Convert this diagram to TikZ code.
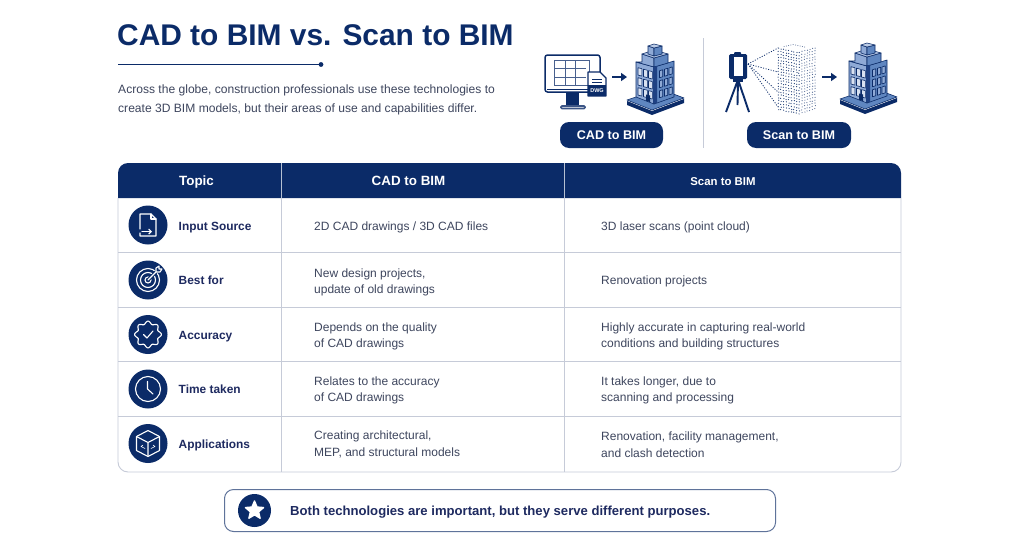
\documentclass[tikz,border=0pt]{standalone}
\usepackage{fontspec}
\setmainfont{Liberation Sans}
\usetikzlibrary{shapes.geometric,arrows.meta,calc}
\definecolor{navy}{HTML}{0B2B68}
\definecolor{gridc}{HTML}{C6CBD8}
\definecolor{bodyc}{HTML}{3E465E}
\definecolor{labelc}{HTML}{1E2A60}
\definecolor{bl}{HTML}{8FAAD6}
\definecolor{bm}{HTML}{5F86C0}
\definecolor{bd}{HTML}{1F4183}
\tikzset{
 title/.style={anchor=base west,inner sep=0,text=navy,font=\fontsize{29.9}{34}\selectfont\bfseries},
 intro/.style={anchor=base west,inner sep=0,text=bodyc,font=\fontsize{12.08}{14}\selectfont},
 headcell/.style={anchor=base,inner sep=0,text=white,font=\fontsize{13.4}{15}\selectfont\bfseries},
 cell/.style={anchor=west,inner sep=0,text=bodyc,align=left,font=\fontsize{12}{16.6}\selectfont},
 topic/.style={anchor=base west,inner sep=0,text=labelc,font=\fontsize{11.9}{14}\selectfont\bfseries},
 iconc/.style={circle,fill=navy,minimum size=39pt,inner sep=0},
 ic/.style={draw=white,line width=1.1pt,line join=round,line cap=round},
 pill/.style={rounded corners=9pt,fill=navy,text=white,minimum height=26pt,inner sep=0,font=\fontsize{12.6}{15}\selectfont\bfseries},
 bigarrow/.style={draw=navy,line width=1.8pt,-{Triangle[length=6pt,width=8pt]}},
 grid/.style={draw=gridc,line width=.9pt},
}
\newcommand{\bimbuilding}[2]{%
\begin{scope}[shift={(#1,#2)},draw=navy,line width=.6pt,line join=round]
 \fill[navy] (-30,21)--(-5,31)--(27,19)--(27,23)--(-5,35)--(-30,25)--cycle;
 \filldraw[fill=bm] (-30,20)--(-5,30)--(27,18)--(3,9)--cycle;
 \filldraw[fill=bl] (-21,-18)--(-3,-13)--(-3,24)--(-21,17)--cycle;
 \filldraw[fill=bm] (-3,-13)--(17,-19)--(17,17)--(-3,24)--cycle;
 \filldraw[fill=bl] (-15,-26)--(-3,-22)--(-3,-13)--(-21,-18)--(-15,-18)--cycle;
 \filldraw[fill=bm] (-3,-22)--(11,-26)--(11,-17)--(-3,-13)--cycle;
 \filldraw[fill=bl!70!white] (-15,-26)--(-3,-30)--(11,-26)--(-3,-22)--cycle;
 \filldraw[fill=bl] (-9,-34)--(-3,-32)--(-3,-24)--(-9,-26)--cycle;
 \filldraw[fill=bm] (-3,-32)--(5,-34)--(5,-26)--(-3,-24)--cycle;
 \filldraw[fill=bl!60!white] (-9,-34)--(-3,-36)--(5,-34)--(-3,-32)--cycle;
 \fill[bd] (-4,-13)--(0,-14)--(0,23)--(-4,23)--cycle;
 \foreach \wx in {-19,-13.5,-8.5}{\foreach \wy in {-11,-1,9}{
   \filldraw[fill=white!65!bl,line width=.6pt] (\wx,\wy+\wx*0.28+4)--++(3.8,1)--++(0,7.4)--++(-3.8,-1)--cycle;}}
 \foreach \wx in {2.5,7.5,12}{\foreach \wy in {-9,1,11}{
   \filldraw[fill=bl,line width=.6pt] (\wx,\wy-\wx*0.3+.5)--++(3.2,-1)--++(0,7)--++(-3.2,1)--cycle;}}
 \fill[navy] (-11,14.5)--(-7,15.5)--(-7,22)--(-11,21)--cycle;
\end{scope}}
\begin{document}
\begin{tikzpicture}[x=1pt,y=-1pt]
\useasboundingbox (0,0) rectangle (1024,538);
\fill[white] (0,0) rectangle (1024,538);
% heading
\node[title] (heading) at (117,45) {CAD to BIM vs. Scan to BIM};
\fill[navy] (321,64.5) circle (2.4pt);
\draw[navy,line width=1.5pt] (118,64.5) -- (321,64.5);
\node[intro] (intro1) at (118,93) {Across the globe, construction professionals use these technologies to};
\node[intro] (intro2) at (118,112) {create 3D BIM models, but their areas of use and capabilities differ.};
% CAD icon
\draw[navy,line width=1.5pt,rounded corners=2.5pt] (600,72) -- (600,55) -- (545,55) -- (545,92) -- (588,92);
\draw[navy,line width=.9pt] (547,89) -- (588,89);
\fill[navy] (566,92) rectangle (579,105);
\draw[navy!80,line width=1.6pt,rounded corners=1pt] (561,106) rectangle (585,108.5);
\draw[navy!75,line width=1pt] (554,60) rectangle (589,85);
\draw[navy!75,line width=.9pt] (554,68) -- (586,68) (554,77) -- (586,77) (565,60) -- (565,85) (575,60) -- (575,85);
\filldraw[draw=navy,fill=white,line width=1.2pt,line join=round] (588,72) -- (600,72) -- (606,78) -- (606,96) -- (588,96) -- cycle;
\fill[navy] (588,85) rectangle (606,96);
\draw[navy,line width=.7pt] (592,79.5) -- (602,79.5) (592,82) -- (602,82);
\node[inner sep=0,text=white,font=\fontsize{5.5}{6}\selectfont\bfseries] (dwg) at (597,90.7) {DWG};
\coordinate (a1s) at (612,77); \coordinate (a1e) at (627,77);
\draw[bigarrow] (a1s) -- (a1e);
\bimbuilding{657}{80}
\node[pill,minimum width=103pt] (pillcad) at (611.5,135) {CAD to BIM};
\draw[draw=gridc,line width=1pt] (703,38) -- (703,148);
% scanner
\fill[navy,rounded corners=1pt] (734,52) rectangle (741,56);
\fill[navy,rounded corners=1.5pt] (729,54) rectangle (747,79);
\fill[white] (733.5,57) rectangle (742.5,76);
\fill[navy] (733,79) rectangle (743,82);
\draw[navy,line width=1.9pt] (737.5,81) -- (726,112) (738,81) -- (737.5,105) (738.5,81) -- (749,112);
\coordinate (lens) at (748,64);
\foreach \ty in {48,72,92,107}{\draw[navy,line width=.8pt,dash pattern=on 1pt off 1.6pt] (lens) -- (778,\ty);}
% point cloud tower
\pgfmathsetseed{7}
\foreach \i in {0,...,8}{\foreach \j in {0,...,21}{
  \pgfmathsetmacro{\px}{778+\i*2.6+rnd*.8}\pgfmathsetmacro{\py}{48+\j*2.9+\i*0.55+rnd*.8}
  \fill[navy!90] (\px,\py) circle (.62pt);}}
\foreach \i in {1,...,6}{\foreach \j in {0,...,21}{
  \pgfmathsetmacro{\px}{799+\i*2.6+rnd*.8}\pgfmathsetmacro{\py}{52+\j*2.9-\i*0.75+rnd*.8}
  \fill[navy!70] (\px,\py) circle (.58pt);}}
\foreach \i in {0,...,9}{\pgfmathsetmacro{\px}{784+\i*2.3}\pgfmathsetmacro{\py}{44.5+abs(\i-4)*0.5}\fill[navy!70] (\px,\py) circle (.5pt);}
\coordinate (a2s) at (822,77); \coordinate (a2e) at (837,77);
\draw[bigarrow] (a2s) -- (a2e);
\bimbuilding{870}{79}
\node[pill,minimum width=104pt] (pillscan) at (799,135) {Scan to BIM};
% table
\fill[white,rounded corners=10pt] (118,163) rectangle (901,472);
\fill[navy] (118,198) -- (118,173) arc[start angle=180,end angle=90,radius=10pt] -- (891,163) arc[start angle=90,end angle=0,radius=10pt] -- (901,198) -- cycle;
\draw[grid] (118,198) -- (118,462) arc[start angle=180,end angle=270,radius=10pt] -- (891,472) arc[start angle=270,end angle=360,radius=10pt] -- (901,198);
\foreach \ry in {252.5,307,361.5,416}{\draw[grid] (118,\ry) -- (901,\ry);}
\draw[grid] (281,198) -- (281,472) (564,198) -- (564,472);
\draw[white!70!navy,line width=.7pt] (281,163) -- (281,198) (564,163) -- (564,198);
\node[headcell] (h1) at (196.5,185) {Topic};
\node[headcell] (h2) at (408.5,185.5) {CAD to BIM};
\node[headcell,font=\fontsize{11.4}{15}\selectfont\bfseries] (h3) at (723,185.5) {Scan to BIM};
% icons
\node[iconc] (i1) at (148,225) {};
\node[iconc] (i2) at (148,280) {};
\node[iconc] (i3) at (148,334.5) {};
\node[iconc] (i4) at (148,389) {};
\node[iconc] (i5) at (148,443.5) {};
\begin{scope}[shift={(148,225)}]
 \draw[ic] (-8,4) -- (-8,-11) -- (3,-11) -- (8,-6) -- (8,11) -- (-8,11) -- (-8,8);
 \draw[ic] (3,-11) -- (3,-6) -- (8,-6);
 \draw[ic,-{Straight Barb[length=2.5pt,width=5pt]}] (-6,6.5) -- (4,6.5);
\end{scope}
\begin{scope}[shift={(148,280)}]
 \draw[ic] (0,0) circle (11.5pt) (0,0) circle (7.5pt) (0,0) circle (3pt);
 \draw[navy,line width=3.5pt] (1,-1) -- (13,-13);
 \draw[ic] (0,0) -- (8,-8);
 \draw[ic] (8,-8) -- (8,-12) -- (11,-14) -- (11,-11) -- (14,-11) -- (12,-8) -- cycle;
\end{scope}
\begin{scope}[shift={(148,334.5)}]
 \draw[ic] plot[domain=0:360,samples=97,smooth] ({(12+1.4*cos(8*\x))*cos(\x)},{(12+1.4*cos(8*\x))*sin(\x)}) -- cycle;
 \draw[ic] (-4.5,0) -- (-1,3.5) -- (5,-3.5);
\end{scope}
\begin{scope}[shift={(148,389)}]
 \draw[ic] (0,0) circle (12.5pt);
 \draw[ic] (-.5,-7.5) -- (-.5,0) -- (5,5);
\end{scope}
\begin{scope}[shift={(148,443.5)}]
 \draw[ic] (0,-13) -- (11.5,-7) -- (11.5,7) -- (0,13) -- (-11.5,7) -- (-11.5,-7) -- cycle;
 \draw[ic] (-11.5,-7) -- (0,-1) -- (11.5,-7) (0,-1) -- (0,13);
 \draw[ic,line width=.6pt] (-7,3) -- (-3,5) (-7,3) -- (-5,1.5) (7,3) -- (3,5) (7,3) -- (5,1.5);
\end{scope}
% rows
\node[topic] (t1) at (178.5,230) {Input Source};
\node[topic] (t2) at (178.5,284.5) {Best for};
\node[topic] (t3) at (178.5,339) {Accuracy};
\node[topic] (t4) at (178.5,393.5) {Time taken};
\node[topic] (t5) at (178.5,448) {Applications};
\node[cell] (c1) at (314,227.5) {2D CAD drawings / 3D CAD files};
\node[cell] (c2) at (314,282.5) {New design projects,\\update of old drawings};
\node[cell] (c3) at (314,336.5) {Depends on the quality\\of CAD drawings};
\node[cell] (c4) at (314,390.5) {Relates to the accuracy\\of CAD drawings};
\node[cell] (c5) at (314,444.5) {Creating architectural,\\MEP, and structural models};
\node[cell] (d1) at (601,227.5) {3D laser scans (point cloud)};
\node[cell] (d2) at (601,281) {Renovation projects};
\node[cell] (d3) at (601,336.5) {Highly accurate in capturing real-world\\conditions and building structures};
\node[cell] (d4) at (601,390.5) {It takes longer, due to\\scanning and processing};
\node[cell] (d5) at (601,444.5) {Renovation, facility management,\\and clash detection};
% footer
\node[draw=navy!55!gridc,line width=1pt,rounded corners=9pt,minimum width=551pt,minimum height=42pt,inner sep=0] (foot) at (500,510.5) {};
\node[iconc,minimum size=33pt] (fi) at (254.5,510.5) {};
\node[star,star points=5,star point ratio=2.2,fill=white,draw=white,line join=round,line width=1.4pt,minimum size=19pt,inner sep=0] (fs) at (254.5,510.5) {};
\node[anchor=base west,inner sep=0,text=labelc,font=\fontsize{13.1}{15}\selectfont\bfseries] (ft) at (290,515.5) {Both technologies are important, but they serve different purposes.};
\end{tikzpicture}
\end{document}
